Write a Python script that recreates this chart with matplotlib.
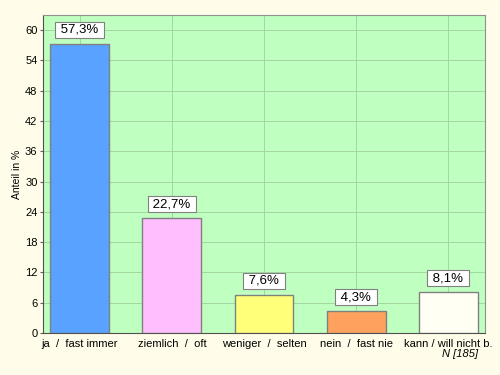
import numpy as np
import matplotlib.pyplot as plt

plt.rcParams['font.family'] = ['Liberation Sans', 'DejaVu Sans']

categories = ['ja  /  fast immer', 'ziemlich  /  oft', 'weniger  /  selten',
              'nein  /  fast nie', 'kann / will nicht b.']
values = [57.3, 22.7, 7.6, 4.3, 8.1]
labels = ['57,3%', '22,7%', '7,6%', '4,3%', '8,1%']
colors = ['#5AA2FF', '#FFBFFF', '#FFFF7A', '#FFA15E', '#FFFFF4']
yticks = np.arange(0, 61, 6)

fig = plt.figure(figsize=(5, 3.75), dpi=100, facecolor='#FFFDE9')
ax = fig.add_axes([0.086, 0.112, 0.884, 0.848])
ax.set_facecolor('#BFFFBF')

x = np.arange(len(categories))
ax.bar(x, values, width=0.64, color=colors, edgecolor='#808080', linewidth=1, zorder=3)

for xi, v, lab in zip(x, values, labels):
    ax.annotate(' ' + lab + ' ', (xi, v), xytext=(0, 5.8), textcoords='offset points',
                ha='center', va='bottom', fontsize=9.5, zorder=4,
                bbox=dict(boxstyle='square,pad=0.15', facecolor='white',
                          edgecolor='#808080', linewidth=0.8))

ax.set_xlim(-0.4, 4.4)
ax.set_ylim(0, 63)
ax.set_yticks(yticks)
ax.set_xticks(x)
ax.set_xticklabels(categories, fontsize=8)
ax.tick_params(axis='y', labelsize=8, length=2, pad=2, color='#606060')
ax.tick_params(axis='x', length=0, pad=4)
ax.grid(True, color='#A2D6A2', linewidth=0.7, zorder=0)
ax.set_axisbelow(True)
ax.set_ylabel('Anteil in %', fontsize=7.5)
ax.yaxis.set_label_coords(-0.047, 0.5)

for side in ['left', 'bottom']:
    ax.spines[side].set_color('#505050')
for side in ['top', 'right']:
    ax.spines[side].set_color('#909090')

fig.text(0.956, 0.055, 'N [185]', ha='right', va='center', fontsize=8, style='italic')

fig.savefig('out.png', dpi=100, facecolor=fig.get_facecolor())
